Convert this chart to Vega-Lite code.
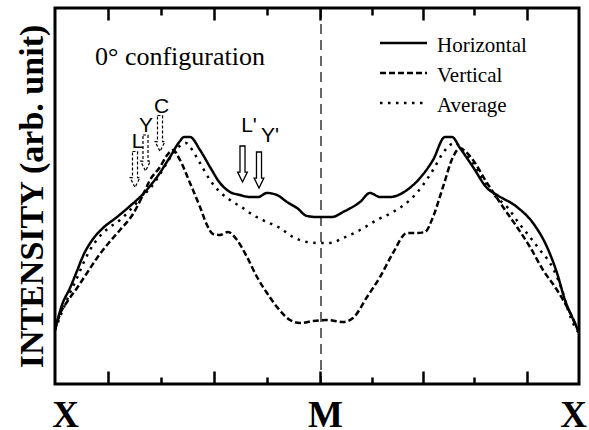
{
  "$schema": "https://vega.github.io/schema/vega-lite/v6.json",
  "width": 524,
  "height": 376,
  "autosize": "none",
  "padding": {"left": 55, "top": 8, "right": 10, "bottom": 46},
  "background": "white",
  "datasets": {
    "curves": [
      {"series":"Horizontal","x":0,"y":54},{"series":"Horizontal","x":2,"y":62},{"series":"Horizontal","x":7,"y":79},{"series":"Horizontal","x":15,"y":96},{"series":"Horizontal","x":22,"y":113},{"series":"Horizontal","x":28,"y":128},{"series":"Horizontal","x":38,"y":145},{"series":"Horizontal","x":48,"y":156},{"series":"Horizontal","x":62,"y":167},{"series":"Horizontal","x":75,"y":178},{"series":"Horizontal","x":87,"y":189},{"series":"Horizontal","x":102,"y":207},{"series":"Horizontal","x":115,"y":227},{"series":"Horizontal","x":125,"y":243},{"series":"Horizontal","x":129,"y":247},{"series":"Horizontal","x":135,"y":247},{"series":"Horizontal","x":145,"y":234},{"series":"Horizontal","x":155,"y":217},{"series":"Horizontal","x":165,"y":201},{"series":"Horizontal","x":175,"y":192},{"series":"Horizontal","x":185,"y":189},{"series":"Horizontal","x":195,"y":187},{"series":"Horizontal","x":203,"y":187},{"series":"Horizontal","x":212,"y":191},{"series":"Horizontal","x":222,"y":189},{"series":"Horizontal","x":232,"y":182},{"series":"Horizontal","x":242,"y":176},{"series":"Horizontal","x":252,"y":168},{"series":"Horizontal","x":262,"y":167},{"series":"Horizontal","x":277,"y":167},{"series":"Horizontal","x":288,"y":172},{"series":"Horizontal","x":305,"y":182},{"series":"Horizontal","x":315,"y":191},{"series":"Horizontal","x":325,"y":187},{"series":"Horizontal","x":335,"y":187},{"series":"Horizontal","x":352,"y":194},{"series":"Horizontal","x":365,"y":206},{"series":"Horizontal","x":378,"y":224},{"series":"Horizontal","x":390,"y":247},{"series":"Horizontal","x":397,"y":247},{"series":"Horizontal","x":405,"y":236},{"series":"Horizontal","x":418,"y":217},{"series":"Horizontal","x":432,"y":196},{"series":"Horizontal","x":442,"y":189},{"series":"Horizontal","x":462,"y":177},{"series":"Horizontal","x":478,"y":161},{"series":"Horizontal","x":492,"y":137},{"series":"Horizontal","x":502,"y":111},{"series":"Horizontal","x":510,"y":84},{"series":"Horizontal","x":517,"y":67},{"series":"Horizontal","x":524,"y":52},
      {"series":"Vertical","x":0,"y":54},{"series":"Vertical","x":5,"y":70},{"series":"Vertical","x":12,"y":82},{"series":"Vertical","x":22,"y":96},{"series":"Vertical","x":32,"y":111},{"series":"Vertical","x":42,"y":126},{"series":"Vertical","x":52,"y":139},{"series":"Vertical","x":65,"y":154},{"series":"Vertical","x":78,"y":170},{"series":"Vertical","x":87,"y":187},{"series":"Vertical","x":95,"y":204},{"series":"Vertical","x":105,"y":217},{"series":"Vertical","x":113,"y":230},{"series":"Vertical","x":118,"y":234},{"series":"Vertical","x":125,"y":224},{"series":"Vertical","x":135,"y":201},{"series":"Vertical","x":145,"y":177},{"series":"Vertical","x":152,"y":159},{"series":"Vertical","x":158,"y":150},{"series":"Vertical","x":165,"y":149},{"series":"Vertical","x":173,"y":152},{"series":"Vertical","x":182,"y":144},{"series":"Vertical","x":192,"y":127},{"series":"Vertical","x":202,"y":107},{"series":"Vertical","x":212,"y":91},{"series":"Vertical","x":222,"y":77},{"series":"Vertical","x":235,"y":64},{"series":"Vertical","x":245,"y":61},{"series":"Vertical","x":258,"y":63},{"series":"Vertical","x":272,"y":64},{"series":"Vertical","x":288,"y":62},{"series":"Vertical","x":298,"y":66},{"series":"Vertical","x":312,"y":87},{"series":"Vertical","x":325,"y":107},{"series":"Vertical","x":338,"y":131},{"series":"Vertical","x":352,"y":151},{"series":"Vertical","x":362,"y":151},{"series":"Vertical","x":370,"y":152},{"series":"Vertical","x":378,"y":167},{"series":"Vertical","x":388,"y":197},{"series":"Vertical","x":398,"y":227},{"series":"Vertical","x":405,"y":236},{"series":"Vertical","x":411,"y":232},{"series":"Vertical","x":418,"y":224},{"series":"Vertical","x":432,"y":201},{"series":"Vertical","x":438,"y":192},{"series":"Vertical","x":448,"y":177},{"series":"Vertical","x":462,"y":157},{"series":"Vertical","x":475,"y":137},{"series":"Vertical","x":488,"y":114},{"series":"Vertical","x":502,"y":94},{"series":"Vertical","x":512,"y":77},{"series":"Vertical","x":520,"y":61},{"series":"Vertical","x":524,"y":51},
      {"series":"Average","x":0,"y":54},{"series":"Average","x":7,"y":72},{"series":"Average","x":15,"y":91},{"series":"Average","x":22,"y":106},{"series":"Average","x":28,"y":120},{"series":"Average","x":35,"y":134},{"series":"Average","x":45,"y":148},{"series":"Average","x":55,"y":157},{"series":"Average","x":65,"y":164},{"series":"Average","x":75,"y":174},{"series":"Average","x":87,"y":187},{"series":"Average","x":100,"y":202},{"series":"Average","x":110,"y":218},{"series":"Average","x":120,"y":233},{"series":"Average","x":126,"y":239},{"series":"Average","x":131,"y":241},{"series":"Average","x":135,"y":237},{"series":"Average","x":145,"y":221},{"series":"Average","x":155,"y":204},{"series":"Average","x":165,"y":192},{"series":"Average","x":178,"y":182},{"series":"Average","x":188,"y":176},{"series":"Average","x":198,"y":169},{"series":"Average","x":212,"y":162},{"series":"Average","x":225,"y":156},{"series":"Average","x":238,"y":147},{"series":"Average","x":252,"y":142},{"series":"Average","x":262,"y":141},{"series":"Average","x":275,"y":141},{"series":"Average","x":288,"y":146},{"series":"Average","x":305,"y":154},{"series":"Average","x":322,"y":164},{"series":"Average","x":338,"y":172},{"series":"Average","x":355,"y":184},{"series":"Average","x":368,"y":199},{"series":"Average","x":378,"y":214},{"series":"Average","x":388,"y":231},{"series":"Average","x":395,"y":239},{"series":"Average","x":400,"y":241},{"series":"Average","x":407,"y":234},{"series":"Average","x":418,"y":221},{"series":"Average","x":432,"y":198},{"series":"Average","x":440,"y":188},{"series":"Average","x":453,"y":176},{"series":"Average","x":463,"y":162},{"series":"Average","x":475,"y":147},{"series":"Average","x":485,"y":134},{"series":"Average","x":495,"y":121},{"series":"Average","x":502,"y":107},{"series":"Average","x":507,"y":94},{"series":"Average","x":513,"y":74},{"series":"Average","x":520,"y":57},{"series":"Average","x":524,"y":51}
    ],
    "arrows": [
      {"label":"L","set":"unprimed","x":80,"y":214.5,"lx":82.5,"ly":236},
      {"label":"Y","set":"unprimed","x":90.5,"y":231,"lx":91,"ly":252},
      {"label":"C","set":"unprimed","x":105,"y":250.5,"lx":106.5,"ly":271},
      {"label":"L'","set":"primed","x":187.5,"y":220,"lx":194,"ly":252},
      {"label":"Y'","set":"primed","x":204,"y":214,"lx":215,"ly":242}
    ],
    "marks": [{"point":"M","x":266}],
    "notes": [{"text":"0° configuration","x":40,"y":319}]
  },
  "layer": [
    {
      "data": {"name": "curves"},
      "mark": {"type": "line", "color": "black", "strokeWidth": 2.5, "interpolate": "monotone"},
      "encoding": {
        "x": {"field": "x", "type": "quantitative", "scale": {"domain": [0, 524], "nice": false, "zero": false},
          "axis": {"orient": "bottom", "values": [10, 270, 518], "labelExpr": "datum.value < 100 ? 'X' : (datum.value < 400 ? 'M' : 'X')", "ticks": false, "tickSize": 0, "domain": false, "grid": false, "labelFont": "Liberation Serif", "labelFontWeight": "bold", "labelFontSize": 37, "labelBaseline": "alphabetic", "labelPadding": 42, "labelFlush": false, "labelOverlap": false, "labelBound": false, "labelColor": "black", "title": null}},
        "y": {"field": "y", "type": "quantitative", "scale": {"domain": [0, 376], "nice": false, "zero": false},
          "axis": {"title": "INTENSITY (arb. unit)", "ticks": false, "labels": false, "domain": false, "grid": false, "titleFont": "Liberation Serif", "titleFontWeight": "bold", "titleFontSize": 34, "titleX": -13, "titleY": 188, "titleAngle": -90, "titleAlign": "center", "titleBaseline": "alphabetic", "titleColor": "black"}},
        "strokeDash": {"field": "series", "type": "nominal",
          "scale": {"domain": ["Horizontal", "Vertical", "Average"], "range": [[1, 0], [6, 3], [2.5, 5.5]]},
          "legend": null}
      }
    },
    {
      "data": {"name": "curves"},
      "transform": [{"aggregate": [{"op": "count", "as": "n"}], "groupby": ["series"]}],
      "mark": {"type": "rule", "color": "black", "strokeWidth": 2.5},
      "encoding": {
        "x": {"datum": 325, "type": "quantitative", "scale": {"domain": [0, 524], "nice": false, "zero": false}, "axis": null},
        "x2": {"datum": 372},
        "y": {"field": "series", "type": "nominal", "scale": {"type": "point", "domain": ["Horizontal", "Vertical", "Average"], "range": [35, 95], "padding": 0}, "axis": null},
        "strokeDash": {"field": "series", "type": "nominal", "legend": null}
      }
    },
    {
      "data": {"name": "curves"},
      "transform": [{"aggregate": [{"op": "count", "as": "n"}], "groupby": ["series"]}],
      "mark": {"type": "text", "font": "Liberation Serif", "fontSize": 21, "align": "left", "baseline": "alphabetic", "dy": 9, "color": "black"},
      "encoding": {
        "x": {"datum": 382, "type": "quantitative", "scale": {"domain": [0, 524], "nice": false, "zero": false}, "axis": null},
        "y": {"field": "series", "type": "nominal", "scale": {"type": "point", "domain": ["Horizontal", "Vertical", "Average"], "range": [35, 95], "padding": 0}, "axis": null},
        "text": {"field": "series"}
      }
    },
    {
      "data": {"name": "marks"},
      "mark": {"type": "rule", "color": "black", "strokeWidth": 1.2, "strokeDash": [10, 6]},
      "encoding": {
        "x": {"field": "x", "type": "quantitative", "scale": {"domain": [0, 524], "nice": false, "zero": false},
          "axis": {"orient": "bottom", "values": [53, 159, 265, 368, 472], "ticks": false, "labels": false, "domain": false, "grid": true, "gridColor": "black", "gridOpacity": 1, "gridWidth": 2.5, "gridDash": [13, 351, 12, 200], "title": null}}
      }
    },
    {
      "data": {"name": "arrows"},
      "transform": [{"filter": {"field": "set", "equal": "unprimed"}}],
      "mark": {"type": "point", "shape": "M -0.14 -1 L 0.14 -1 L 0.14 0.45 L 0.27 0.45 L 0 1 L -0.27 0.45 L -0.14 0.45 Z", "size": 1296, "filled": false, "fill": "white", "fillOpacity": 1, "stroke": "black", "strokeWidth": 1.2, "strokeDash": [3, 2], "opacity": 1},
      "encoding": {
        "x": {"field": "x", "type": "quantitative", "scale": {"domain": [0, 524], "nice": false, "zero": false},
          "axis": {"orient": "bottom", "values": [106, 212, 317, 419], "ticks": false, "labels": false, "domain": false, "grid": true, "gridColor": "black", "gridOpacity": 1, "gridWidth": 2.5, "gridDash": [7, 362, 7, 200], "title": null}},
        "y": {"field": "y", "type": "quantitative", "scale": {"domain": [0, 376], "nice": false, "zero": false}, "axis": null}
      }
    },
    {
      "data": {"name": "arrows"},
      "transform": [{"filter": {"field": "set", "equal": "primed"}}],
      "mark": {"type": "point", "shape": "M -0.14 -1 L 0.14 -1 L 0.14 0.45 L 0.27 0.45 L 0 1 L -0.27 0.45 L -0.14 0.45 Z", "size": 1296, "filled": false, "fill": "white", "fillOpacity": 1, "stroke": "black", "strokeWidth": 1.3, "opacity": 1},
      "encoding": {
        "x": {"field": "x", "type": "quantitative", "scale": {"domain": [0, 524], "nice": false, "zero": false}, "axis": null},
        "y": {"field": "y", "type": "quantitative", "scale": {"domain": [0, 376], "nice": false, "zero": false}, "axis": null}
      }
    },
    {
      "data": {"name": "arrows"},
      "mark": {"type": "text", "font": "Liberation Sans", "fontSize": 21, "align": "center", "baseline": "alphabetic", "color": "black"},
      "encoding": {
        "x": {"field": "lx", "type": "quantitative", "scale": {"domain": [0, 524], "nice": false, "zero": false}, "axis": null},
        "y": {"field": "ly", "type": "quantitative", "scale": {"domain": [0, 376], "nice": false, "zero": false}, "axis": null},
        "text": {"field": "label"}
      }
    },
    {
      "data": {"name": "notes"},
      "mark": {"type": "text", "font": "Liberation Serif", "fontSize": 26, "align": "left", "baseline": "alphabetic", "color": "black"},
      "encoding": {
        "x": {"field": "x", "type": "quantitative", "scale": {"domain": [0, 524], "nice": false, "zero": false}, "axis": null},
        "y": {"field": "y", "type": "quantitative", "scale": {"domain": [0, 376], "nice": false, "zero": false}, "axis": null},
        "text": {"field": "text"}
      }
    }
  ],
  "resolve": {"axis": {"x": "independent", "y": "independent"}, "scale": {"y": "independent"}},
  "config": {"view": {"stroke": "black", "strokeWidth": 3}, "axis": {"grid": false}}
}
